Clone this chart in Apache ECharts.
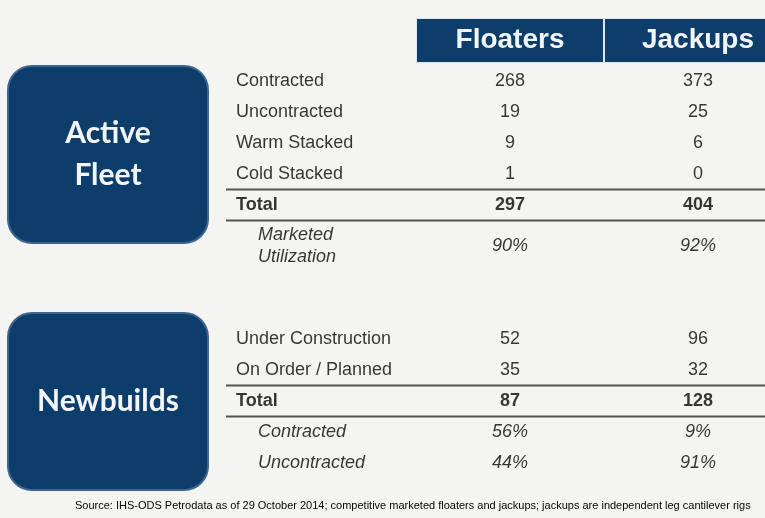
<!DOCTYPE html>
<html lang="en">
<head>
    <meta charset="UTF-8">
    <title>Fleet table</title>
    <style>
        html, body { margin: 0; padding: 0; background: #f4f4f2; }
        #main { width: 765px; height: 518px; }
    </style>
</head>
<body>
<div id="main"></div>
<script src="https://cdn.jsdelivr.net/npm/echarts@6/dist/echarts.min.js"></script>
<script>
    const columns = ['', 'Floaters', 'Jackups'];
    const sections = ['Active\nFleet', 'Newbuilds'];

    const activeRows = ['Contracted', 'Uncontracted', 'Warm Stacked', 'Cold Stacked', 'Total', 'Marketed\nUtilization'];
    const activeFloaters = [268, 19, 9, 1, 297, 90];
    const activeJackups = [373, 25, 6, 0, 404, 92];

    const newRows = ['Under Construction', 'On Order / Planned', 'Total', 'Contracted', 'Uncontracted'];
    const newFloaters = [52, 35, 87, 56, 44];
    const newJackups = [96, 32, 128, 9, 91];

    const sourceNote = 'Source: IHS-ODS Petrodata as of 29 October 2014; competitive marketed floaters and jackups; jackups are independent leg cantilever rigs';

    const navy = '#0c3d6b';
    const ink = '#050505';
    const font = '"Liberation Sans", Arial, sans-serif';

    // rows after "Total" are shares, shown in italics with a % sign
    function cells(rows, floaters, jackups) {
        const totalAt = rows.indexOf('Total');
        const out = [];
        rows.forEach((name, i) => {
            const italic = i > totalAt;
            const base = {
                fontWeight: i === totalAt ? 'bold' : 'normal',
                fontStyle: italic ? 'italic' : 'normal'
            };
            const dy = name.indexOf('\n') >= 0 ? 10 : 0;
            const fmt = v => italic ? v + '%' : String(v);
            out.push({value: [0, i, name], label: {...base, align: 'left', offset: [italic ? -64 : -86, dy]}});
            out.push({value: [1, i, fmt(floaters[i])], label: {...base, offset: [0, dy]}});
            out.push({value: [2, i, fmt(jackups[i])], label: {...base, offset: [0, dy]}});
        });
        return out;
    }

    // separator lines above the Total row and above the first share row
    function rules(rows) {
        const totalAt = rows.indexOf('Total');
        return [[0, totalAt], [0, totalAt + 1]];
    }

    function ruleItem(params, api) {
        const cs = params.coordSys;
        const y = api.coord([0, api.value(1)])[1] - api.size([0, 1])[1] / 2;
        return {
            type: 'line',
            shape: {x1: cs.x - 2, y1: y, x2: cs.x + cs.width, y2: y},
            style: {stroke: '#57534d', lineWidth: 2}
        };
    }

    const xAxisFor = i => ({type: 'category', data: columns, gridIndex: i, show: false});
    const yRows = (i, rows) => ({type: 'category', data: rows, gridIndex: i, inverse: true, show: false});

    const cellSeries = (i, data) => ({
        type: 'scatter',
        xAxisIndex: i,
        yAxisIndex: i,
        symbolSize: 1,
        itemStyle: {color: 'rgba(0,0,0,0)'},
        silent: true,
        data,
        label: {
            show: true,
            position: 'inside',
            formatter: p => p.value[2],
            fontSize: 18,
            lineHeight: 22,
            fontFamily: font,
            color: ink,
            textBorderWidth: 0
        }
    });

    const gridAt = (top, height) => ({left: 228, width: 564, top, height, outerBoundsMode: 'none'});

    const option = {
        backgroundColor: '#f4f4f2',
        animation: false,
        title: {
            text: sourceNote,
            left: 75,
            top: 500,
            padding: 0,
            textStyle: {fontSize: 11, fontWeight: 'normal', color: ink, fontFamily: font}
        },
        grid: [gridAt(18, 45), gridAt(65.5, 186), gridAt(323.5, 155)],
        xAxis: [xAxisFor(0), xAxisFor(1), xAxisFor(2)],
        yAxis: [
            {type: 'value', gridIndex: 0, min: 0, max: 1, show: false},
            yRows(1, activeRows),
            yRows(2, newRows)
        ],
        series: [
            {
                type: 'bar',
                xAxisIndex: 0,
                yAxisIndex: 0,
                barWidth: '100%',
                silent: true,
                data: columns.map(c => c ? 1 : '-'),
                itemStyle: {color: navy, borderColor: '#dfe6ee', borderWidth: 1},
                label: {
                    show: true,
                    position: 'inside',
                    formatter: p => p.name,
                    fontSize: 28,
                    fontWeight: 'bold',
                    fontFamily: font,
                    color: '#f3f5f8'
                }
            },
            cellSeries(1, cells(activeRows, activeFloaters, activeJackups)),
            cellSeries(2, cells(newRows, newFloaters, newJackups)),
            {type: 'custom', xAxisIndex: 1, yAxisIndex: 1, silent: true, renderItem: ruleItem, data: rules(activeRows)},
            {type: 'custom', xAxisIndex: 2, yAxisIndex: 2, silent: true, renderItem: ruleItem, data: rules(newRows)}
        ],
        graphic: sections.map((name, k) => ({
            type: 'rect',
            left: 7,
            top: k ? 312 : 65,
            shape: {width: 200, height: 177, r: 24},
            style: {fill: navy, stroke: '#3f6690', lineWidth: 2},
            textContent: {
                style: {
                    text: name,
                    fill: '#f3f5f8',
                    font: 'bold 30px Lato, "Open Sans", sans-serif',
                    lineHeight: 42,
                    align: 'center',
                    verticalAlign: 'middle'
                }
            },
            textConfig: {position: 'inside'}
        }))
    };

    const myChart = echarts.init(document.getElementById('main'));
    myChart.setOption(option);
</script>
</body>
</html>
